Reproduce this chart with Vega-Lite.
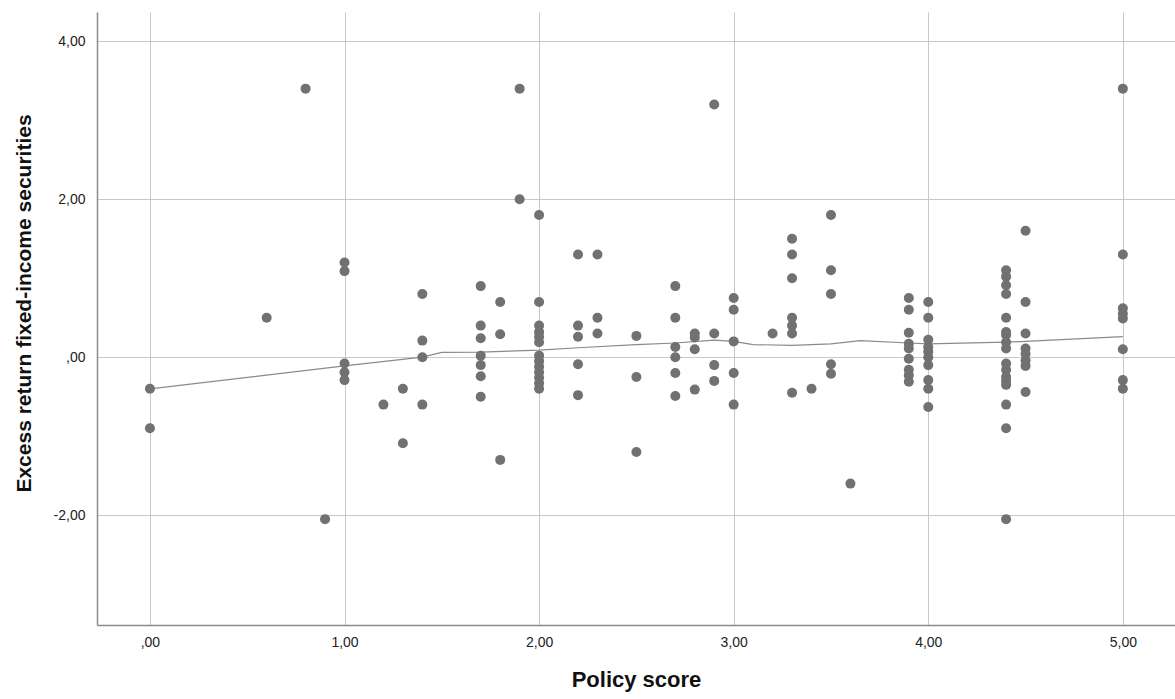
{
  "$schema": "https://vega.github.io/schema/vega-lite/v6.json",
  "autosize": "none",
  "width": 1078,
  "height": 613,
  "padding": {"left": 97, "top": 12, "right": 0, "bottom": 74},
  "background": "white",
  "config": {
    "view": {"stroke": null},
    "font": "Liberation Sans"
  },
  "datasets": {
    "pts": [
      {"policy": 0, "excess": -0.4}, {"policy": 0, "excess": -0.9},
      {"policy": 0.6, "excess": 0.5},
      {"policy": 0.8, "excess": 3.4},
      {"policy": 0.9, "excess": -2.05},
      {"policy": 1.0, "excess": 1.2}, {"policy": 1.0, "excess": 1.09}, {"policy": 1.0, "excess": -0.08}, {"policy": 1.0, "excess": -0.19}, {"policy": 1.0, "excess": -0.29},
      {"policy": 1.2, "excess": -0.6},
      {"policy": 1.3, "excess": -0.4}, {"policy": 1.3, "excess": -1.09},
      {"policy": 1.4, "excess": 0.8}, {"policy": 1.4, "excess": 0.21}, {"policy": 1.4, "excess": 0.0}, {"policy": 1.4, "excess": -0.6},
      {"policy": 1.7, "excess": 0.9}, {"policy": 1.7, "excess": 0.4}, {"policy": 1.7, "excess": 0.24}, {"policy": 1.7, "excess": 0.02}, {"policy": 1.7, "excess": -0.1}, {"policy": 1.7, "excess": -0.24}, {"policy": 1.7, "excess": -0.5},
      {"policy": 1.8, "excess": 0.7}, {"policy": 1.8, "excess": 0.29}, {"policy": 1.8, "excess": -1.3},
      {"policy": 1.9, "excess": 3.4}, {"policy": 1.9, "excess": 2.0},
      {"policy": 2.0, "excess": 1.8}, {"policy": 2.0, "excess": 0.7}, {"policy": 2.0, "excess": 0.4}, {"policy": 2.0, "excess": 0.32}, {"policy": 2.0, "excess": 0.26}, {"policy": 2.0, "excess": 0.19}, {"policy": 2.0, "excess": 0.02}, {"policy": 2.0, "excess": -0.05}, {"policy": 2.0, "excess": -0.12}, {"policy": 2.0, "excess": -0.19}, {"policy": 2.0, "excess": -0.26}, {"policy": 2.0, "excess": -0.33}, {"policy": 2.0, "excess": -0.4},
      {"policy": 2.2, "excess": 1.3}, {"policy": 2.2, "excess": 0.4}, {"policy": 2.2, "excess": 0.26}, {"policy": 2.2, "excess": -0.09}, {"policy": 2.2, "excess": -0.48},
      {"policy": 2.3, "excess": 1.3}, {"policy": 2.3, "excess": 0.5}, {"policy": 2.3, "excess": 0.3},
      {"policy": 2.5, "excess": 0.27}, {"policy": 2.5, "excess": -0.25}, {"policy": 2.5, "excess": -1.2},
      {"policy": 2.7, "excess": 0.9}, {"policy": 2.7, "excess": 0.5}, {"policy": 2.7, "excess": 0.13}, {"policy": 2.7, "excess": 0.0}, {"policy": 2.7, "excess": -0.2}, {"policy": 2.7, "excess": -0.49},
      {"policy": 2.8, "excess": 0.3}, {"policy": 2.8, "excess": 0.25}, {"policy": 2.8, "excess": 0.1}, {"policy": 2.8, "excess": -0.41},
      {"policy": 2.9, "excess": 3.2}, {"policy": 2.9, "excess": 0.3}, {"policy": 2.9, "excess": -0.1}, {"policy": 2.9, "excess": -0.3},
      {"policy": 3.0, "excess": 0.75}, {"policy": 3.0, "excess": 0.6}, {"policy": 3.0, "excess": 0.2}, {"policy": 3.0, "excess": -0.2}, {"policy": 3.0, "excess": -0.6},
      {"policy": 3.2, "excess": 0.3},
      {"policy": 3.3, "excess": 1.5}, {"policy": 3.3, "excess": 1.3}, {"policy": 3.3, "excess": 1.0}, {"policy": 3.3, "excess": 0.5}, {"policy": 3.3, "excess": 0.4}, {"policy": 3.3, "excess": 0.3}, {"policy": 3.3, "excess": -0.45},
      {"policy": 3.4, "excess": -0.4},
      {"policy": 3.5, "excess": 1.8}, {"policy": 3.5, "excess": 1.1}, {"policy": 3.5, "excess": 0.8}, {"policy": 3.5, "excess": -0.09}, {"policy": 3.5, "excess": -0.21},
      {"policy": 3.6, "excess": -1.6},
      {"policy": 3.9, "excess": 0.75}, {"policy": 3.9, "excess": 0.6}, {"policy": 3.9, "excess": 0.31}, {"policy": 3.9, "excess": 0.17}, {"policy": 3.9, "excess": 0.11}, {"policy": 3.9, "excess": -0.02}, {"policy": 3.9, "excess": -0.16}, {"policy": 3.9, "excess": -0.23}, {"policy": 3.9, "excess": -0.31},
      {"policy": 4.0, "excess": 0.7}, {"policy": 4.0, "excess": 0.5}, {"policy": 4.0, "excess": 0.22}, {"policy": 4.0, "excess": 0.13}, {"policy": 4.0, "excess": 0.07}, {"policy": 4.0, "excess": 0.0}, {"policy": 4.0, "excess": -0.1}, {"policy": 4.0, "excess": -0.29}, {"policy": 4.0, "excess": -0.4}, {"policy": 4.0, "excess": -0.63},
      {"policy": 4.4, "excess": 1.1}, {"policy": 4.4, "excess": 1.02}, {"policy": 4.4, "excess": 0.91}, {"policy": 4.4, "excess": 0.8}, {"policy": 4.4, "excess": 0.5}, {"policy": 4.4, "excess": 0.32}, {"policy": 4.4, "excess": 0.28}, {"policy": 4.4, "excess": 0.19}, {"policy": 4.4, "excess": 0.11}, {"policy": 4.4, "excess": -0.08}, {"policy": 4.4, "excess": -0.16}, {"policy": 4.4, "excess": -0.25}, {"policy": 4.4, "excess": -0.3}, {"policy": 4.4, "excess": -0.35}, {"policy": 4.4, "excess": -0.6}, {"policy": 4.4, "excess": -0.9}, {"policy": 4.4, "excess": -2.05},
      {"policy": 4.5, "excess": 1.6}, {"policy": 4.5, "excess": 0.7}, {"policy": 4.5, "excess": 0.3}, {"policy": 4.5, "excess": 0.11}, {"policy": 4.5, "excess": 0.04}, {"policy": 4.5, "excess": -0.04}, {"policy": 4.5, "excess": -0.11}, {"policy": 4.5, "excess": -0.44},
      {"policy": 5.0, "excess": 3.4}, {"policy": 5.0, "excess": 1.3}, {"policy": 5.0, "excess": 0.62}, {"policy": 5.0, "excess": 0.55}, {"policy": 5.0, "excess": 0.49}, {"policy": 5.0, "excess": 0.1}, {"policy": 5.0, "excess": -0.29}, {"policy": 5.0, "excess": -0.4}
    ],
    "fit": [
      {"policy": 0, "excess": -0.4}, {"policy": 1.0, "excess": -0.11}, {"policy": 1.4, "excess": 0.0},
      {"policy": 1.5, "excess": 0.06}, {"policy": 1.7, "excess": 0.065}, {"policy": 2.0, "excess": 0.09},
      {"policy": 2.2, "excess": 0.12}, {"policy": 2.5, "excess": 0.16}, {"policy": 2.7, "excess": 0.18},
      {"policy": 2.9, "excess": 0.215}, {"policy": 3.0, "excess": 0.2}, {"policy": 3.1, "excess": 0.16},
      {"policy": 3.3, "excess": 0.15}, {"policy": 3.5, "excess": 0.17}, {"policy": 3.65, "excess": 0.21},
      {"policy": 3.9, "excess": 0.18}, {"policy": 4.0, "excess": 0.17}, {"policy": 4.4, "excess": 0.19},
      {"policy": 4.5, "excess": 0.2}, {"policy": 5.0, "excess": 0.26}
    ]
  },
  "encoding": {
    "x": {
      "field": "policy", "type": "quantitative",
      "scale": {"domain": [-0.272, 5.268], "nice": false, "zero": false},
      "axis": {
        "title": "Policy score",
        "values": [0, 1, 2, 3, 4, 5],
        "labelExpr": "datum.value == 0 ? ',00' : replace(format(datum.value, '.2f'), '.', ',')",
        "grid": true, "gridColor": "#c8c8c8", "gridWidth": 1,
        "ticks": false, "domainColor": "#8c8c8c", "domainWidth": 1.5,
        "labelFont": "Liberation Sans", "labelFontSize": 14, "labelColor": "#222222", "labelPadding": 10,
        "titleFont": "Liberation Sans", "titleFontSize": 22, "titleFontWeight": "bold", "titleColor": "#111111", "titlePadding": 20
      }
    },
    "y": {
      "field": "excess", "type": "quantitative",
      "scale": {"domain": [-3.39, 4.37], "nice": false, "zero": false},
      "axis": {
        "title": "Excess return fixed-income securities",
        "values": [-2, 0, 2, 4],
        "labelExpr": "(datum.value < 0 ? '-' : '') + (datum.value == 0 ? ',00' : replace(format(abs(datum.value), '.2f'), '.', ','))",
        "grid": true, "gridColor": "#c8c8c8", "gridWidth": 1,
        "ticks": false, "domainColor": "#8c8c8c", "domainWidth": 1.5,
        "labelFont": "Liberation Sans", "labelFontSize": 14, "labelColor": "#222222", "labelPadding": 12,
        "titleFont": "Liberation Sans", "titleFontSize": 21, "titleFontWeight": "bold", "titleColor": "#111111", "titlePadding": 19,
        "titleY": 291
      }
    }
  },
  "layer": [
    {
      "data": {"name": "fit"},
      "mark": {"type": "line", "color": "#8a8a8a", "strokeWidth": 1.2, "interpolate": "linear"}
    },
    {
      "data": {"name": "pts"},
      "mark": {"type": "point", "filled": true, "size": 100, "color": "#717171", "opacity": 1}
    }
  ]
}
